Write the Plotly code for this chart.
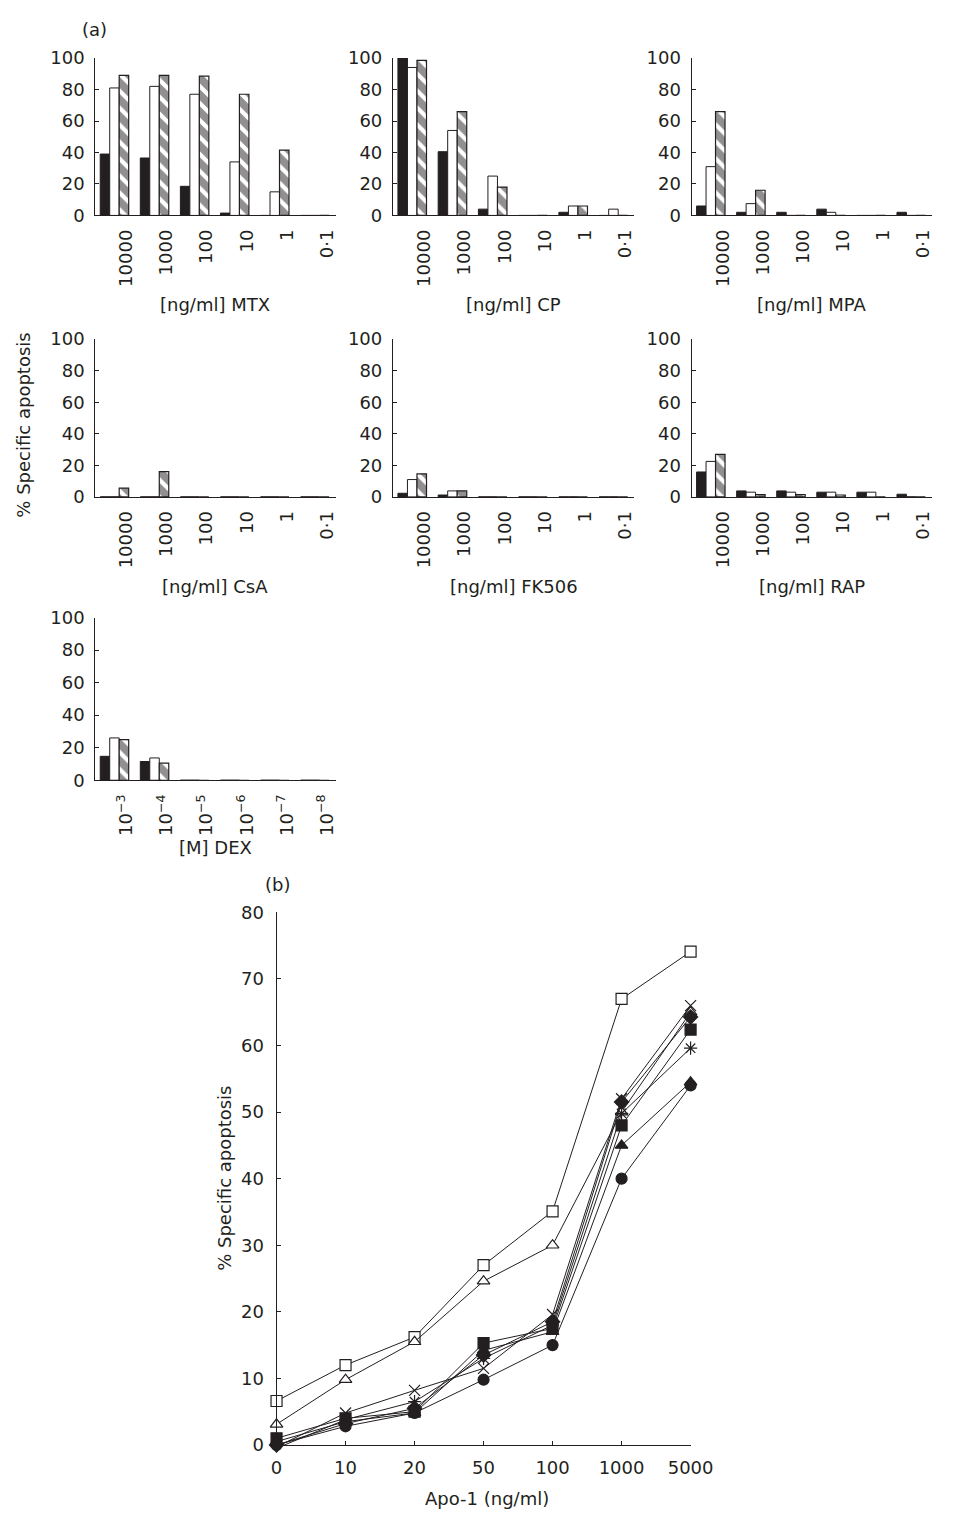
import plotly.graph_objects as go

W, H = 956, 1522
FONT = "DejaVu Sans"
INK = "#231f20"

# ---------------- data (a) ----------------
conc_ng = ["10000", "1000", "100", "10", "1", "0·1"]
conc_dex = ["10<sup>−3</sup>", "10<sup>−4</sup>", "10<sup>−5</sup>",
            "10<sup>−6</sup>", "10<sup>−7</sup>", "10<sup>−8</sup>"]

mtx_black = [39, 36.5, 18.5, 1.5, 0, 0]
mtx_white = [81, 82, 77, 34, 15, 0]
mtx_hatch = [89, 89, 88.5, 77, 41.5, 0]

cp_black = [100, 40.5, 4, 0, 2, 0]
cp_white = [94, 54, 25, 0, 6, 4]
cp_hatch = [98.5, 66, 18, 0, 6, 0]

mpa_black = [6, 2, 2, 4, 0, 2]
mpa_white = [31, 7.5, 0, 2, 0, 0]
mpa_hatch = [66, 16, 0, 0, 0, 0]

csa_black = [0, 0, 0, 0, 0, 0]
csa_white = [0, 0, 0, 0, 0, 0]
csa_hatch = [5.5, 16, 0, 0, 0, 0]

fk_black = [2.3, 1.2, 0, 0, 0, 0]
fk_white = [11, 3.8, 0, 0, 0, 0]
fk_hatch = [14.6, 3.8, 0, 0, 0, 0]

rap_black = [15.8, 3.8, 3.8, 3, 3, 1.7]
rap_white = [22.5, 3, 3, 3, 3, 0]
rap_hatch = [27, 1.5, 1.5, 1.2, 0, 0]

dex_black = [14.7, 11.5, 0, 0, 0, 0]
dex_white = [26, 13.7, 0, 0, 0, 0]
dex_hatch = [25, 10.5, 0, 0, 0, 0]

# ---------------- data (b) ----------------
apo_conc = ["0", "10", "20", "50", "100", "1000", "5000"]
open_square = [6.6, 12, 16.2, 27, 35.1, 67, 74.1]
open_triangle = [3.1, 9.8, 15.5, 24.6, 30, 50, 65]
cross = [-0.3, 4.8, 8.2, 11.5, 19.6, 52, 66]
asterisk = [-0.5, 3.8, 6.5, 13, 18, 49.8, 59.6]
filled_diamond = [0, 3.2, 5.5, 13.5, 18.5, 51.5, 64.3]
filled_square = [1, 4, 5, 15.3, 17.5, 48, 62.4]
filled_triangle = [0.5, 3.5, 4.8, 14.2, 17, 45, 54.5]
filled_circle = [0, 2.8, 4.8, 9.8, 15, 40, 54]


def px_x(p):
    return p / W


def px_y(p):
    return 1 - p / H


panels = [
    ("[ng/ml] MTX", mtx_black, mtx_white, mtx_hatch, conc_ng, (92, 340), (47.7, 207.3), 298),
    ("[ng/ml] CP", cp_black, cp_white, cp_hatch, conc_ng, (399, 648), (47.7, 207.3), 298),
    ("[ng/ml] MPA", mpa_black, mpa_white, mpa_hatch, conc_ng, (707, 955), (47.7, 207.3), 298),
    ("[ng/ml] CsA", csa_black, csa_white, csa_hatch, conc_ng, (92, 340), (332.7, 492.7), 584),
    ("[ng/ml] FK506", fk_black, fk_white, fk_hatch, conc_ng, (399, 648), (332.7, 492.7), 584),
    ("[ng/ml] RAP", rap_black, rap_white, rap_hatch, conc_ng, (707, 955), (332.7, 492.7), 584),
    ("[M] DEX", dex_black, dex_white, dex_hatch, conc_dex, (92, 340), (615, 780), 848),
]

fig = go.Figure()
layout = dict(
    width=W, height=H, margin=dict(l=0, r=0, t=0, b=0),
    paper_bgcolor="white", plot_bgcolor="white",
    showlegend=False, barmode="group", bargap=0.29, bargroupgap=0,
    font=dict(family=FONT, size=18, color=INK),
)
annotations = []

for k, (title, blk, wht, hat, labels, xd, yd, ty) in enumerate(panels):
    n = k + 1
    xa = "x" if n == 1 else f"x{n}"
    ya = "y" if n == 1 else f"y{n}"
    pos = [i + 0.48 for i in range(len(labels))]
    fig.add_trace(go.Bar(x=pos, y=blk, xaxis=xa, yaxis=ya,
                         marker=dict(color=INK, line=dict(color=INK, width=1))))
    fig.add_trace(go.Bar(x=pos, y=wht, xaxis=xa, yaxis=ya,
                         marker=dict(color="white", line=dict(color=INK, width=1))))
    fig.add_trace(go.Bar(x=pos, y=hat, xaxis=xa, yaxis=ya,
                         marker=dict(color="white", line=dict(color=INK, width=1.2),
                                     pattern=dict(shape="\\", fgcolor=INK, bgcolor="white",
                                                  size=12, solidity=0.65))))
    layout["xaxis" if n == 1 else f"xaxis{n}"] = dict(
        domain=[px_x(xd[0]), px_x(xd[1])], anchor=ya, range=[0, 6],
        tickmode="array", tickvals=[i + 0.78 for i in range(len(labels))], ticktext=labels,
        tickangle=-90, ticks="", showline=True, linecolor=INK, linewidth=1,
        showgrid=False, zeroline=False, fixedrange=True, ticklabelstandoff=6,
        tickfont=dict(family=FONT, size=18, color=INK),
    )
    layout["yaxis" if n == 1 else f"yaxis{n}"] = dict(
        domain=[px_y(yd[1]), px_y(yd[0])], anchor=xa, range=[0, 100],
        tickmode="array", tickvals=[0, 20, 40, 60, 80, 100],
        ticks="inside", ticklen=4, tickcolor=INK, showline=True, linecolor=INK, linewidth=1,
        showgrid=False, zeroline=False, fixedrange=True, ticklabelstandoff=6,
        tickfont=dict(family=FONT, size=18, color=INK),
    )
    annotations.append(dict(text=title, x=px_x((xd[0] + xd[1]) / 2), y=px_y(ty),
                            xref="paper", yref="paper", showarrow=False,
                            xanchor="center", yanchor="middle",
                            font=dict(family=FONT, size=18, color=INK)))

# ---------------- panel (b) ----------------
series = [
    (open_square, "square", "white"),
    (open_triangle, "triangle-up", "white"),
    (cross, "x-thin-open", INK),
    (asterisk, "asterisk-open", INK),
    (filled_diamond, "diamond", INK),
    (filled_square, "square", INK),
    (filled_triangle, "triangle-up", INK),
    (filled_circle, "circle", INK),
]
xb = list(range(len(apo_conc)))
for vals, sym, fill in series:
    fig.add_trace(go.Scatter(
        x=xb, y=vals, xaxis="x8", yaxis="y8", mode="lines+markers",
        line=dict(color=INK, width=1), cliponaxis=False,
        marker=dict(symbol=sym, size=11, color=fill,
                    line=dict(color=INK, width=1.2)),
    ))
layout["xaxis8"] = dict(
    domain=[px_x(279), px_x(706)], anchor="y8", range=[0, 6],
    tickmode="array", tickvals=xb, ticktext=apo_conc,
    ticks="inside", ticklen=4, tickcolor=INK, showline=True, linecolor=INK, linewidth=1,
    showgrid=False, zeroline=False, fixedrange=True, ticklabelstandoff=6,
    tickfont=dict(family=FONT, size=18, color=INK),
)
layout["yaxis8"] = dict(
    domain=[px_y(1454), px_y(914)], anchor="x8", range=[0, 80],
    tickmode="array", tickvals=[0, 10, 20, 30, 40, 50, 60, 70, 80],
    ticks="inside", ticklen=4, tickcolor=INK, showline=True, linecolor=INK, linewidth=1,
    showgrid=False, zeroline=False, fixedrange=True, ticklabelstandoff=8,
    tickfont=dict(family=FONT, size=18, color=INK),
)

annotations += [
    dict(text="(a)", x=px_x(91), y=px_y(19)),
    dict(text="(b)", x=px_x(280), y=px_y(886)),
    dict(text="% Specific apoptosis", x=px_x(18), y=px_y(420), textangle=-90),
    dict(text="% Specific apoptosis", x=px_x(225), y=px_y(1184), textangle=-90),
    dict(text="Apo-1 (ng/ml)", x=px_x(496), y=px_y(1508)),
]
for a in annotations[-5:]:
    a.update(xref="paper", yref="paper", showarrow=False, xanchor="center",
             yanchor="middle", font=dict(family=FONT, size=18, color=INK))

layout["annotations"] = annotations
fig.update_layout(**layout)
fig.write_html("out.html")
